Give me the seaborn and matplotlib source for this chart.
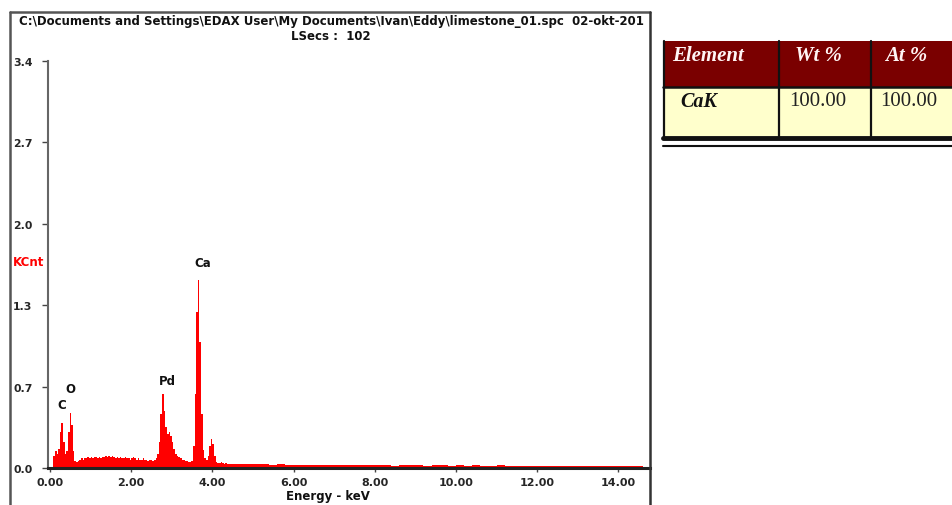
import numpy as np
import pandas as pd
import matplotlib
matplotlib.use("Agg")
import matplotlib.pyplot as plt
from matplotlib.patches import Rectangle
from matplotlib.lines import Line2D
import seaborn as sns

# ---------------- data ----------------
# fine channels (0.04 keV) from 0.08 to 4.40 keV
fine_counts = [
    0.10, 0.14, 0.12, 0.16, 0.30, 0.38, 0.22, 0.12, 0.14, 0.30,
    0.46, 0.36, 0.14, 0.06, 0.05, 0.06, 0.07, 0.08, 0.07, 0.08,
    0.08, 0.09, 0.08, 0.09, 0.08, 0.09, 0.09, 0.08, 0.09, 0.08,
    0.09, 0.09, 0.10, 0.09, 0.10, 0.09, 0.10, 0.09, 0.08, 0.09,
    0.08, 0.09, 0.08, 0.08, 0.09, 0.08, 0.08, 0.07, 0.08, 0.09,
    0.08, 0.07, 0.08, 0.07, 0.07, 0.08, 0.07, 0.07, 0.06, 0.07,
    0.07, 0.06, 0.07, 0.08, 0.12, 0.22, 0.45, 0.62, 0.48, 0.34,
    0.28, 0.30, 0.27, 0.22, 0.16, 0.12, 0.10, 0.09, 0.08, 0.07,
    0.07, 0.06, 0.06, 0.05, 0.05, 0.06, 0.18, 0.62, 1.30, 1.57,
    1.05, 0.45, 0.15, 0.08, 0.07, 0.10, 0.18, 0.24, 0.20, 0.10,
    0.05, 0.04, 0.04, 0.05, 0.04, 0.03, 0.04, 0.03,
]
# coarse channels (0.2 keV) from 4.40 to 14.60 keV
coarse_counts = [
    0.035, 0.030, 0.035, 0.030, 0.030, 0.028, 0.030, 0.025,
    0.028, 0.025, 0.027, 0.024, 0.026, 0.025, 0.023, 0.025, 0.024, 0.026,
    0.022, 0.024, 0.020, 0.023, 0.021, 0.022, 0.020, 0.021, 0.022, 0.020,
    0.021, 0.019, 0.022, 0.020, 0.019, 0.021, 0.018, 0.020, 0.019, 0.020,
    0.018, 0.020, 0.017, 0.019, 0.018, 0.017, 0.019, 0.016, 0.018, 0.017,
    0.016, 0.015, 0.014,
]
peak_labels = ["C", "O", "Pd", "Ca"]
peak_label_energy = [0.30, 0.49, 2.88, 3.76]
peak_label_height = [0.53, 0.66, 0.73, 1.72]

x_ticks = [0, 2, 4, 6, 8, 10, 12, 14]
x_tick_labels = ["0.00", "2.00", "4.00", "6.00", "8.00", "10.00", "12.00", "14.00"]
y_ticks = [0.0, 0.68, 1.36, 2.04, 2.72, 3.40]
y_tick_labels = ["0.0", "0.7", "1.3", "2.0", "2.7", "3.4"]

title_line1 = "C:\\Documents and Settings\\EDAX User\\My Documents\\Ivan\\Eddy\\limestone_01.spc  02-okt-201"
title_line2 = "LSecs :  102"

table_header = ["Element", "Wt %", "At %"]
table_row = ["CaK", "100.00", "100.00"]

# channel grid
edges = np.concatenate([np.round(np.arange(0.08, 4.40 + 1e-9, 0.04), 4),
                        np.round(np.arange(4.60, 14.60 + 1e-9, 0.20), 4)])
centers = (edges[:-1] + edges[1:]) / 2
counts = fine_counts + coarse_counts
df = pd.DataFrame({"energy": centers, "kcnt": counts})

# ---------------- figure ----------------
sns.set_style("white")
plt.rcParams["font.family"] = ["DejaVu Sans"]

W, H = 952, 506
fig = plt.figure(figsize=(W / 100, H / 100), dpi=100)

def fx(x):
    return x / W

def fy(y):
    return 1 - y / H

ax_left, ax_right, ax_top, ax_bot = 48, 650, 62, 469
ax = fig.add_axes([fx(ax_left), fy(ax_bot), fx(ax_right - ax_left), (ax_bot - ax_top) / H])

sns.histplot(data=df, x="energy", weights="kcnt", bins=list(edges), element="step",
             fill=True, color="#ff0000", alpha=1.0, linewidth=0, ax=ax)

ax.set_xlim(-0.05, 14.78)
ax.set_ylim(0, 3.4)
ax.set_xticks(x_ticks)
ax.set_xticklabels(x_tick_labels, fontsize=8, fontweight="bold")
ax.set_yticks(y_ticks)
ax.set_yticklabels(y_tick_labels, fontsize=7.8, fontweight="bold")
for lbl in ax.get_yticklabels():
    lbl.set_horizontalalignment("left")
ax.tick_params(axis="y", direction="out", length=4, width=1, color="#444", pad=21.2, left=True)
ax.tick_params(axis="x", direction="out", length=3, width=1, color="#444", pad=3.5, bottom=True)
ax.set_xlabel("")
ax.set_ylabel("")
ax.patch.set_alpha(0)

for s in ["top", "right"]:
    ax.spines[s].set_visible(False)
ax.spines["left"].set_color("#666")
ax.spines["left"].set_linewidth(1.5)
ax.spines["bottom"].set_color("#222")
ax.spines["bottom"].set_linewidth(2.2)

for lab, e, h in zip(peak_labels, peak_label_energy, peak_label_height):
    ax.text(e, h, lab, ha="center", va="center", fontsize=8.5, fontweight="bold", color="#111")

# outer frame (left, top, right)
frame_col = "#555"
fig.add_artist(Line2D([fx(10), fx(10)], [fy(13), fy(510)], transform=fig.transFigure, color=frame_col, lw=1.8))
fig.add_artist(Line2D([fx(10), fx(650)], [fy(13), fy(13)], transform=fig.transFigure, color=frame_col, lw=1.8))
fig.add_artist(Line2D([fx(650), fx(650)], [fy(13), fy(510)], transform=fig.transFigure, color="#333", lw=1.8))

fig.text(fx(331), fy(22), title_line1, ha="center", va="center", fontsize=8.5, fontweight="bold", color="#111")
fig.text(fx(331), fy(36), title_line2, ha="center", va="center", fontsize=8.5, fontweight="bold", color="#111")
fig.text(fx(13), fy(262), "KCnt", ha="left", va="center", fontsize=8.5, fontweight="bold", color="#ff0000")
fig.text(fx(328), fy(497), "Energy - keV", ha="center", va="center", fontsize=8.5, fontweight="bold", color="#111")

# ---------------- table ----------------
maroon = "#7a0000"
cream = "#ffffcc"
tx0, tx1 = 663, 960
fig.add_artist(Rectangle((fx(tx0), fy(88)), fx(tx1 - tx0), (88 - 42) / H, transform=fig.transFigure,
                         facecolor=maroon, edgecolor="none"))
fig.add_artist(Rectangle((fx(tx0), fy(137)), fx(tx1 - tx0), (137 - 88) / H, transform=fig.transFigure,
                         facecolor=cream, edgecolor="none"))
# grid lines
for xv in [664, 779, 871]:
    fig.add_artist(Line2D([fx(xv), fx(xv)], [fy(42), fy(138)], transform=fig.transFigure, color="#111", lw=1.6))
fig.add_artist(Line2D([fx(tx0), fx(tx1)], [fy(88), fy(88)], transform=fig.transFigure, color="#111", lw=1.8))
fig.add_artist(Line2D([fx(tx0), fx(tx1)], [fy(139), fy(139)], transform=fig.transFigure, color="#111", lw=3.5))
fig.add_artist(Line2D([fx(tx0), fx(tx1)], [fy(146.5), fy(146.5)], transform=fig.transFigure, color="#111", lw=1.5))

serif = ["Liberation Serif", "DejaVu Serif"]
head_x = [672, 795, 885]
for t, xv in zip(table_header, head_x):
    fig.text(fx(xv), fy(56), t, ha="left", va="center", fontsize=15, fontweight="bold",
             fontstyle="italic", family=serif, color="#fff4f4")
row_x = [680, 789, 880]
for i, (t, xv) in enumerate(zip(table_row, row_x)):
    if i == 0:
        fig.text(fx(xv), fy(102), t, ha="left", va="center", fontsize=14.5, fontweight="bold",
                 fontstyle="italic", family=serif, color="#111")
    else:
        fig.text(fx(xv), fy(102), t, ha="left", va="center", fontsize=15, family=serif, color="#222")

fig.savefig("out.png", dpi=100)
